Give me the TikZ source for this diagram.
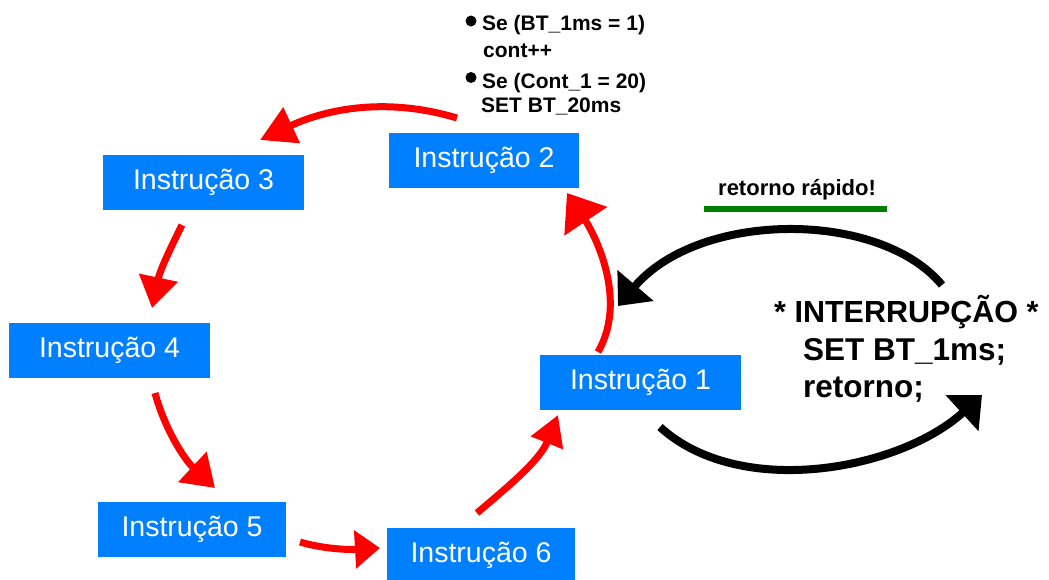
\documentclass[tikz,border=0pt]{standalone}
\usepackage{fontspec}
\setmainfont{Liberation Sans}
\usetikzlibrary{arrows.meta}
\definecolor{boxblue}{RGB}{0,128,255}
\definecolor{flowred}{RGB}{255,0,0}
\definecolor{okgreen}{RGB}{0,128,0}
\tikzset{
  instr/.style={fill=boxblue, text=white, inner sep=0pt,
    minimum height=55pt, font=\fontsize{28.5}{30}\selectfont},
  flow/.style={draw=flowred, line width=7pt},
  irq/.style={draw=black, line width=8pt},
  note/.style={anchor=base west, inner sep=0pt, font=\fontsize{21}{24}\selectfont\bfseries},
  irqtext/.style={anchor=base west, inner sep=0pt, font=\fontsize{31.5}{36}\selectfont\bfseries},
}
\begin{document}
\begin{tikzpicture}[x=1pt,y=-1pt]
\useasboundingbox (0,0) rectangle (1049,579);

% instruction boxes
\node[instr, minimum width=201pt] (i1) at (640.5,382) {Instrução 1};
\node[instr, minimum width=190pt] (i2) at (484,160.5) {Instrução 2};
\node[instr, minimum width=201pt] (i3) at (203.5,182) {Instrução 3};
\node[instr, minimum width=201pt] (i4) at (109.5,350) {Instrução 4};
\node[instr, minimum width=188pt] (i5) at (192,529.5) {Instrução 5};
\node[instr, minimum width=188pt] (i6) at (481,555) {Instrução 6};

% note above instruction 2
\fill (471,21) circle (5.5);
\node[note] (n1) at (482,30) {Se (BT\_1ms = 1)};
\node[note] (n2) at (483,57) {cont++};
\fill (471,77.5) circle (5.5);
\node[note] (n3) at (482,88) {Se (Cont\_1 = 20)};
\node[note] (n4) at (481,112) {SET BT\_20ms};

% interrupt routine
\node[irqtext, font=\fontsize{30.5}{36}\selectfont\bfseries] (t1) at (774,322) {* INTERRUPÇÃO *};
\node[irqtext] (t2) at (803,360) {SET BT\_1ms;};
\node[irqtext] (t3) at (803,397) {retorno;};

\node[note, font=\fontsize{22}{24}\selectfont\bfseries] (fast) at (718,195) {retorno rápido!};
\fill[okgreen] (704,206) rectangle (887,212);

% connector end points
\coordinate (s12) at (598,352);  \coordinate (e12) at (567,193);
\coordinate (s23) at (457,118);  \coordinate (e23) at (260,140);
\coordinate (s34) at (182,225);  \coordinate (e34) at (152,308);
\coordinate (s45) at (155,393);  \coordinate (e45) at (215,488);
\coordinate (s56) at (300,542);  \coordinate (e56) at (380,548);
\coordinate (s61) at (477,513);  \coordinate (e61) at (558,415);
\coordinate (sin) at (660,427);  \coordinate (ein) at (982,395);
\coordinate (sout) at (942,285); \coordinate (eout) at (618,306);

% program flow
\draw[flow, -{Triangle[length=34pt,width=50pt]}] (s12) .. controls (628,300) and (595,235) .. (e12);
\draw[flow, -{Triangle[length=35pt,width=38pt]}] (s23) .. controls (380,95) and (320,112) .. (e23);
\draw[flow, -{Triangle[length=31pt,width=38pt]}] (s34) .. controls (172,245) and (160,270) .. (e34);
\draw[flow, -{Triangle[length=31pt,width=40pt]}] (s45) .. controls (165,430) and (185,460) .. (e45);
\draw[flow, -{Triangle[length=25pt,width=37pt]}] (s56) .. controls (320,548) and (345,550) .. (e56);
\draw[flow, -{Triangle[length=30pt,width=33pt]}] (s61) .. controls (510,485) and (540,460) .. (e61);

% jump into and back from the interrupt
\draw[irq, -{Triangle[length=27pt,width=47pt]}] (sin) .. controls (740,500) and (900,470) .. (ein);
\draw[irq, -{Triangle[length=27pt,width=46pt]}] (sout) .. controls (880,210) and (700,210) .. (eout);
\end{tikzpicture}
\end{document}
